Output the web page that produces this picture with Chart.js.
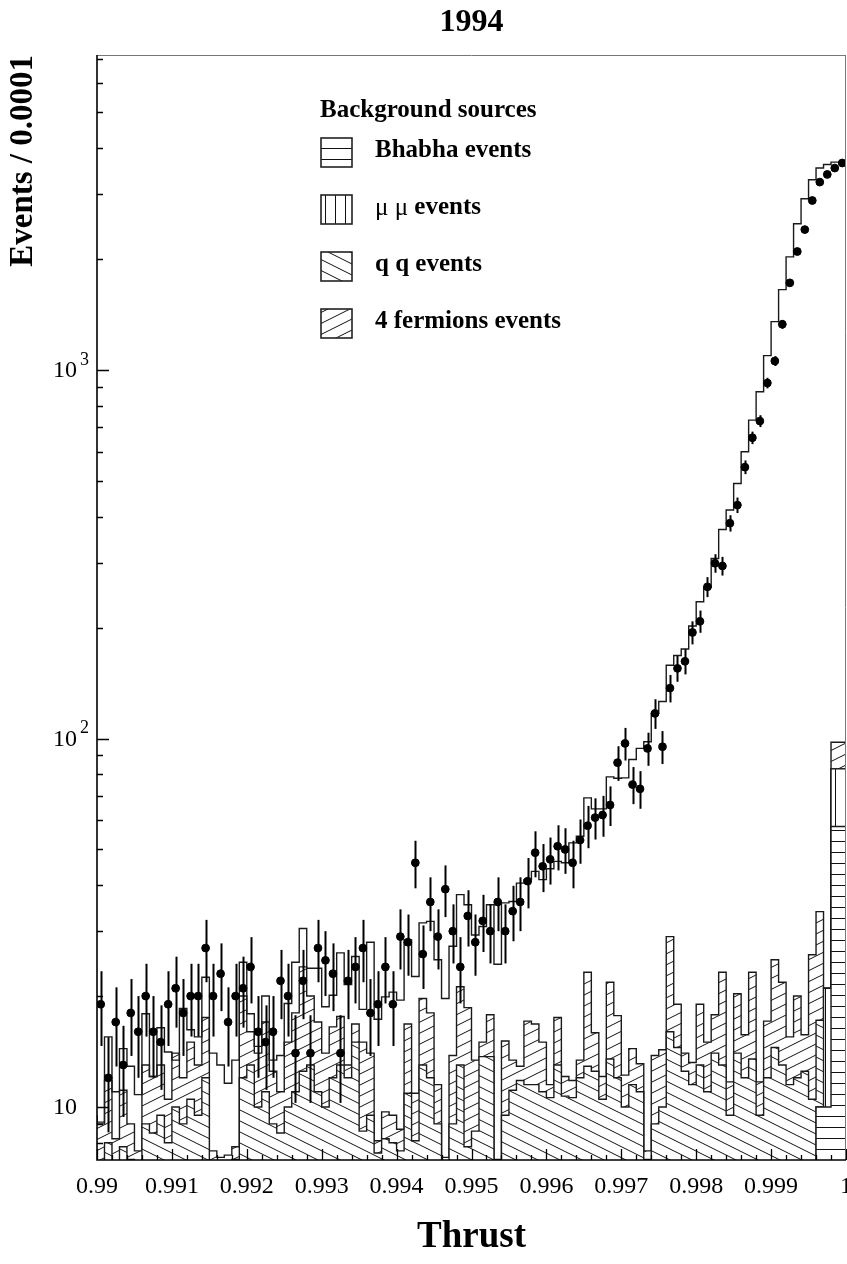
<!DOCTYPE html>
<html>
<head>
<meta charset="utf-8">
<title>Thrust 1994</title>
<script src="https://cdn.jsdelivr.net/npm/chart.js@4.4.1/dist/chart.umd.min.js"></script>
<style>
    html, body { margin: 0; padding: 0; background: #fff; overflow: hidden; }
    #wrap { width: 847px; height: 1264px; }
</style>
</head>
<body>
<div id="wrap"><canvas id="thrustChart" width="847" height="1264"></canvas></div>
<script>
// Thrust distribution (1994): 100 bins of 0.0001 between 0.99 and 1
const binStart = 0.99;
const binWidth = 0.0001;

// Data, events per bin
const dataCounts = [
    19, 12, 17, 13, 18, 16, 20, 16, 15, 19,
    21, 18, 20, 20, 27, 20, 23, 17, 20, 21,
    24, 16, 15, 16, 22, 20, 14, 22, 14, 27,
    25, 23, 14, 22, 24, 27, 18, 19, 24, 19,
    29, 28, 46, 26, 36, 29, 39, 30, 24, 33,
    28, 32, 30, 36, 30, 34, 36, 41, 49, 45,
    47, 51, 50, 46, 53, 58, 61, 62, 66, 86,
    97, 75, 73, 94, 117, 95, 137, 155, 162, 194,
    208, 258, 299, 294, 384, 430, 545, 655, 727, 922,
    1058, 1331, 1724, 2097, 2405, 2884, 3236, 3395, 3533, 3646
];

// Monte Carlo total (signal + background)
const mcTotal = [
    9.5, 9.0, 15.5, 11.0, 14.4, 12.9, 10.8, 17.9, 12.1, 16.4,
    14.1, 13.4, 18.5, 16.2, 15.5, 22.5, 14.0, 13.0, 11.6, 13.4,
    24.7, 17.9, 14.6, 20.0, 13.4, 13.8, 19.1, 24.7, 30.5, 23.8,
    23.8, 18.7, 20.1, 26.2, 21.5, 25.6, 18.4, 28.0, 17.3, 19.9,
    20.5, 19.5, 28.4, 22.6, 31.6, 31.9, 25.1, 19.7, 27.3, 37.7,
    35.4, 29.3, 30.9, 35.4, 24.4, 35.8, 36.1, 40.5, 41.4, 43.6,
    41.4, 44.3, 46.4, 46.0, 52.1, 54.3, 69.0, 64.4, 64.4, 78.7,
    78.0, 78.2, 87.7, 94.0, 98.0, 117, 126, 158, 168, 175,
    202, 235, 257, 308, 369, 417, 492, 600, 731, 873,
    1094, 1353, 1653, 2028, 2494, 2915, 3284, 3533, 3612, 3667
];

// Background sources (stacked: Bhabha, mu mu, q q, 4 fermions)
const bhabhaEvents = [
    0, 0, 0, 0, 0, 0, 0, 0, 0, 0,
    0, 0, 0, 0, 0, 0, 0, 0, 0, 0,
    0, 0, 0, 0, 0, 0, 0, 0, 0, 0,
    0, 0, 0, 0, 0, 0, 0, 0, 0, 0,
    0, 0, 0, 0, 0, 0, 0, 0, 0, 0,
    0, 0, 0, 0, 0, 0, 0, 0, 0, 0,
    0, 0, 0, 0, 0, 0, 0, 0, 0, 0,
    0, 0, 0, 0, 0, 0, 0, 0, 0, 0,
    0, 0, 0, 0, 0, 0, 0, 0, 0, 0,
    0, 0, 0, 0, 0, 0, 0, 10, 10, 57.7
];
const mumuEvents = [
    0, 0, 0, 0, 0, 0, 0, 0, 0, 0,
    0, 0, 0, 0, 0, 0, 0, 0, 0, 0,
    0, 0, 0, 0, 0, 0, 0, 0, 0, 0,
    0, 0, 0, 0, 0, 0, 0, 0, 0, 0,
    0, 0, 0, 0, 0, 0, 0, 0, 0, 0,
    0, 0, 0, 0, 0, 0, 0, 0, 0, 0,
    0, 0, 0, 0, 0, 0, 0, 0, 0, 0,
    0, 0, 0, 0, 0, 0, 0, 0, 0, 0,
    0, 0, 0, 0, 0, 0, 0, 0, 0, 0,
    0, 0, 0, 0, 0, 0, 0, 0, 11, 25
];
const qqEvents = [
    6.5, 6.0, 8.0, 7.0, 7.8, 7.2, 7.0, 9.0, 8.5, 9.5,
    8.0, 10.0, 9.0, 10.5, 9.5, 12.0, 7.0, 6.8, 6.9, 7.2,
    12.0, 13.0, 10.0, 11.0, 9.0, 8.5, 10.0, 11.0, 12.5, 13.0,
    11.0, 10.0, 12.0, 13.0, 12.0, 15.0, 8.6, 9.5, 7.5, 8.2,
    8.0, 7.6, 10.9, 8.1, 13.0, 12.0, 9.0, 7.0, 9.0, 13.0,
    7.8, 8.6, 13.7, 13.7, 7.0, 9.5, 11.1, 11.8, 11.5, 11.5,
    11.0, 10.6, 13.0, 10.7, 10.6, 12.0, 12.9, 12.5, 10.5, 13.5,
    12.0, 10.0, 11.5, 11.0, 7.2, 9.0, 10.0, 16.0, 14.5, 12.5,
    11.5, 13.0, 11.0, 14.0, 13.0, 9.5, 14.0, 12.0, 13.5, 9.5,
    12.0, 14.5, 13.0, 11.5, 12.0, 12.5, 10.5, 7.2, 0, 0
];
const fourFermionEvents = [
    3.0, 3.1, 3.8, 1.2, 3.3, 1.8, 0.6, 4.0, 3.6, 3.5,
    2.5, 4.0, 3.0, 4.5, 3.5, 5.5, 0.6, 0.5, 0.5, 0.6,
    8.0, 3.0, 4.0, 6.0, 3.5, 2.5, 5.0, 7.0, 11.5, 7.0,
    6.0, 4.0, 4.5, 4.6, 1.0, 1.8, 6.4, 4.5, 0.6, 1.5,
    1.5, 1.1, 5.9, 2.8, 6.7, 6.0, 2.5, 0.3, 4.8, 8.2,
    10.8, 4.8, 1.3, 4.1, 0.2, 5.6, 2.3, 1.1, 5.6, 5.3,
    4.0, 0.9, 4.5, 1.4, 1.2, 1.4, 10.3, 3.4, 1.6, 8.3,
    5.7, 2.2, 2.9, 2.1, 0.4, 4.8, 4.3, 13.0, 4.5, 1.5,
    1.7, 6.0, 4.0, 3.8, 10.2, 2.2, 6.3, 3.7, 9.7, 2.2,
    5.1, 10.6, 8.8, 4.0, 8.0, 3.2, 15.4, 16.7, 0, 15
];

// Axis ticks
const xTickValues = [0.99, 0.991, 0.992, 0.993, 0.994, 0.995, 0.996, 0.997, 0.998, 0.999, 1];
const xTickLabels = ['0.99', '0.991', '0.992', '0.993', '0.994', '0.995', '0.996', '0.997', '0.998', '0.999', '1'];
const yMajorTicks = [10, 100, 1000];
const yTickLabels = [['10', ''], ['10', '2'], ['10', '3']];
const yMin = 7.18;
const yMax = 7160;

const legendEntries = [
    { pre: '', text: 'Bhabha events', key: 'bhabha' },
    { pre: '\u03bc \u03bc ', text: 'events', key: 'mumu' },
    { pre: '', text: 'q q events', key: 'qq' },
    { pre: '', text: '4 fermions events', key: 'ff' }
];

const canvas = document.getElementById('thrustChart');
const ctx = canvas.getContext('2d');
const serif = '"Liberation Serif", "Times New Roman", serif';

// Hatch patterns (white background so stacked fills cover each other)
function makeHatch(kind) {
    let w = 22, h = 11;
    if (kind === 'horizontal') { w = 11; h = 11; }
    if (kind === 'vertical') { w = 10; h = 10; }
    const tile = document.createElement('canvas');
    tile.width = w;
    tile.height = h;
    const c = tile.getContext('2d');
    c.fillStyle = '#fff';
    c.fillRect(0, 0, w, h);
    c.strokeStyle = '#111';
    c.lineWidth = 1;
    c.beginPath();
    if (kind === 'horizontal') {
        c.moveTo(0, 5.5); c.lineTo(w, 5.5);
    } else if (kind === 'vertical') {
        c.moveTo(5.5, 0); c.lineTo(5.5, h);
    } else {
        const s = kind === 'down' ? 0.5 : -0.5;
        for (let k = -4; k <= 4; k++) {
            c.moveTo(-w, -s * w + k * h);
            c.lineTo(2 * w, 2 * s * w + k * h);
        }
    }
    c.stroke();
    return ctx.createPattern(tile, 'repeat');
}

const patterns = {
    bhabha: makeHatch('horizontal'),
    mumu: makeHatch('vertical'),
    qq: makeHatch('down'),
    ff: makeHatch('up')
};

// Bin edges and stacked totals
const edges = dataCounts.map((_, i) => binStart + i * binWidth);
edges.push(binStart + dataCounts.length * binWidth);
const floorValue = 1; // below the axis minimum, keeps empty bins off the log scale

function stepData(values) {
    return edges.map((e, i) => ({ x: e, y: Math.max(values[Math.min(i, values.length - 1)], floorValue) }));
}

const stackBhabha = bhabhaEvents.slice();
const stackMumu = stackBhabha.map((v, i) => v + mumuEvents[i]);
const stackQq = stackMumu.map((v, i) => v + qqEvents[i]);
const stackFf = stackQq.map((v, i) => v + fourFermionEvents[i]);

const histLine = '#1a1a1a';

function histDataset(label, values, pattern, order) {
    return {
        type: 'line',
        label: label,
        data: stepData(values),
        stepped: 'after',
        borderColor: histLine,
        borderWidth: 1.4,
        backgroundColor: pattern,
        fill: pattern ? 'start' : false,
        pointRadius: 0,
        order: order
    };
}

// Error bars (sqrt N) for the data points
const errorBars = {
    id: 'errorBars',
    afterDatasetsDraw(chart) {
        const { ctx: c, chartArea: a, scales: { x, y } } = chart;
        c.save();
        c.beginPath();
        c.rect(a.left, a.top, a.right - a.left, a.bottom - a.top);
        c.clip();
        c.strokeStyle = '#000';
        c.lineWidth = 2;
        dataCounts.forEach((n, i) => {
            const err = Math.sqrt(n);
            const px = Math.round(x.getPixelForValue(binStart + (i + 0.5) * binWidth)) + 0.5;
            c.beginPath();
            c.moveTo(px, y.getPixelForValue(n + err));
            c.lineTo(px, y.getPixelForValue(Math.max(n - err, floorValue)));
            c.stroke();
        });
        c.restore();
    }
};

// ROOT-like frame, ticks, labels, titles and legend
const rootFrame = {
    id: 'rootFrame',
    afterDraw(chart) {
        const { ctx: c, chartArea: a, scales: { x, y } } = chart;
        c.save();

        // frame
        c.strokeStyle = '#777';
        c.lineWidth = 1;
        c.beginPath();
        c.moveTo(a.left, a.top + 0.5); c.lineTo(a.right, a.top + 0.5);
        c.moveTo(a.right - 0.5, a.top); c.lineTo(a.right - 0.5, a.bottom);
        c.stroke();
        c.strokeStyle = '#000';
        c.lineWidth = 1.6;
        c.beginPath();
        c.moveTo(a.left, a.top); c.lineTo(a.left, a.bottom);
        c.lineTo(a.right, a.bottom);
        c.stroke();

        // y ticks (log)
        c.lineWidth = 1.3;
        c.beginPath();
        for (let d = 1; d <= 1000; d *= 10) {
            for (let m = 1; m <= 9; m++) {
                const v = m * d;
                if (v < yMin || v > yMax) continue;
                const py = Math.round(y.getPixelForValue(v)) + 0.5;
                const len = m === 1 ? 12 : 6;
                c.moveTo(a.left, py);
                c.lineTo(a.left + len, py);
            }
        }
        // x ticks
        for (let k = 0; k <= 50; k++) {
            const v = binStart + k * 2 * binWidth;
            const px = Math.round(x.getPixelForValue(v)) + 0.5;
            const len = k % 5 === 0 ? 11 : 5;
            c.moveTo(px, a.bottom);
            c.lineTo(px, a.bottom - len);
        }
        c.stroke();

        // tick labels
        c.fillStyle = '#000';
        c.font = '24px ' + serif;
        c.textAlign = 'center';
        c.textBaseline = 'middle';
        xTickValues.forEach((v, i) => {
            c.fillText(xTickLabels[i], x.getPixelForValue(v), a.bottom + 27);
        });
        yMajorTicks.forEach((v, i) => {
            const py = y.getPixelForValue(v);
            c.font = '24px ' + serif;
            c.textAlign = 'right';
            c.fillText(yTickLabels[i][0], a.left - 20, py + 1);
            if (yTickLabels[i][1]) {
                c.font = '18px ' + serif;
                c.textAlign = 'left';
                c.fillText(yTickLabels[i][1], a.left - 17, py - 10);
            }
        });

        // titles
        c.font = 'bold 32px ' + serif;
        c.textAlign = 'center';
        c.fillText('1994', (a.left + a.right) / 2, 23);
        c.font = 'bold 37px ' + serif;
        c.fillText('Thrust', (a.left + a.right) / 2, 1237);
        c.save();
        c.font = 'bold 33px ' + serif;
        c.translate(23, a.top);
        c.rotate(-Math.PI / 2);
        c.textAlign = 'right';
        c.fillText('Events / 0.0001', 0, 0);
        c.restore();

        // legend
        c.textAlign = 'left';
        c.font = 'bold 25px ' + serif;
        c.fillText('Background sources', 320, 111);
        legendEntries.forEach((entry, i) => {
            const top = 138 + i * 57;
            c.fillStyle = patterns[entry.key];
            c.fillRect(321, top, 31, 29);
            c.strokeStyle = '#222';
            c.lineWidth = 1.6;
            c.strokeRect(321, top, 31, 29);
            c.fillStyle = '#000';
            let tx = 375;
            if (entry.pre) {
                c.font = '25px ' + serif;
                c.fillText(entry.pre, tx, top + 13);
                tx += c.measureText(entry.pre).width;
            }
            c.font = 'bold 25px ' + serif;
            c.fillText(entry.text, tx, top + 13);
        });

        c.restore();
    }
};

const chart = new Chart(ctx, {
    data: {
        datasets: [
            {
                type: 'scatter',
                label: 'Data',
                data: dataCounts.map((n, i) => ({ x: binStart + (i + 0.5) * binWidth, y: n })),
                backgroundColor: '#000',
                borderColor: '#000',
                pointRadius: 3.9,
                order: 0
            },
            histDataset('MC', mcTotal, null, 1),
            histDataset('Bhabha events', stackBhabha, patterns.bhabha, 2),
            histDataset('\u03bc \u03bc events', stackMumu, patterns.mumu, 3),
            histDataset('q q events', stackQq, patterns.qq, 4),
            histDataset('4 fermions events', stackFf, patterns.ff, 5)
        ]
    },
    options: {
        responsive: false,
        animation: false,
        layout: {
            autoPadding: false,
            padding: { left: 97, right: 1, top: 55, bottom: 104 }
        },
        scales: {
            x: {
                type: 'linear',
                min: binStart,
                max: binStart + dataCounts.length * binWidth,
                display: false
            },
            y: {
                type: 'logarithmic',
                min: yMin,
                max: yMax,
                display: false
            }
        },
        plugins: {
            legend: { display: false },
            title: { display: false },
            tooltip: { enabled: false }
        }
    },
    plugins: [errorBars, rootFrame]
});
</script>
</body>
</html>
